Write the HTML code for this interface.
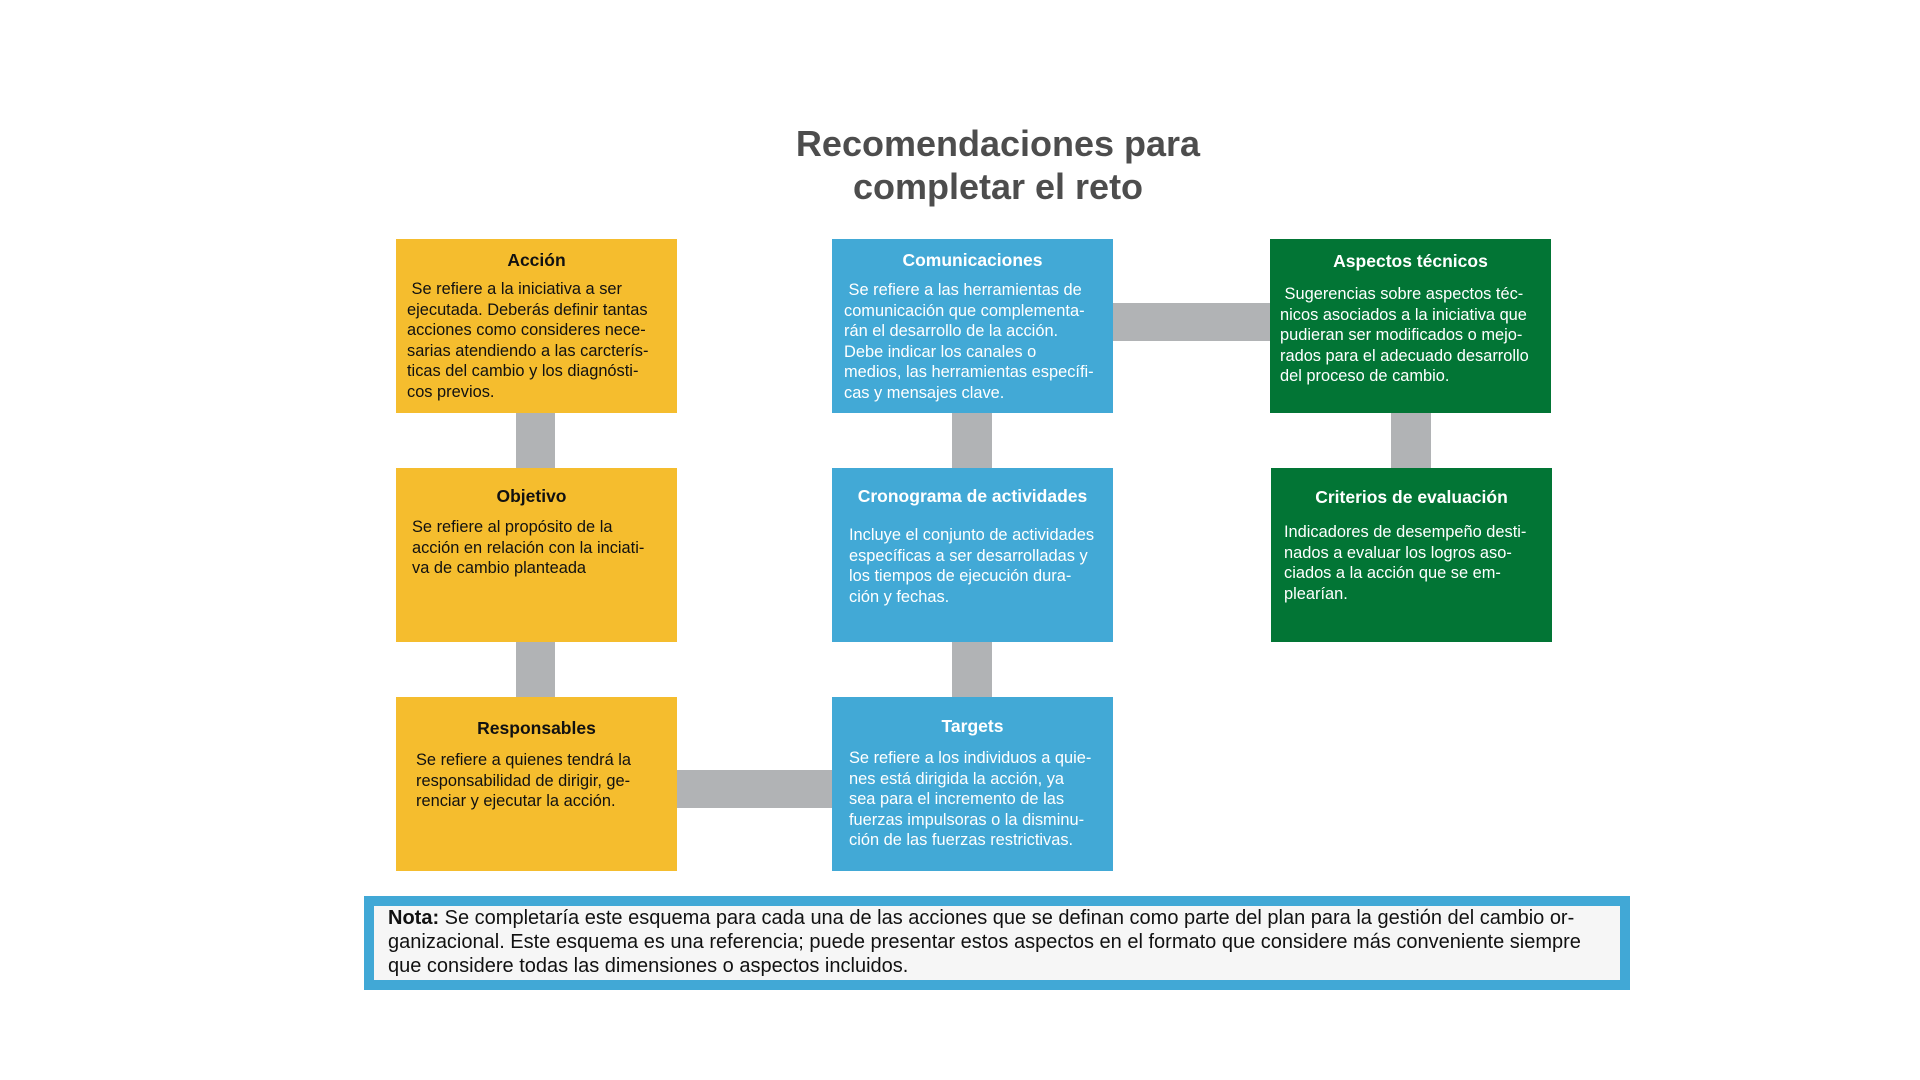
<!DOCTYPE html>
<html><head><meta charset="utf-8"><style>
body{margin:0;width:1920px;height:1080px;background:#fff;position:relative;overflow:hidden;font-family:"Liberation Sans",Arial,sans-serif}
.t{position:absolute;left:0;width:1996px;text-align:center;font-weight:bold;font-size:36px;color:#4d4d4d;line-height:43px}
.b{position:absolute;width:281px;height:174px}
.y{background:#f5bd2e;color:#111}
.u{background:#42a9d6;color:#fff}
.g{background:#027535;color:#fff}
.h{position:absolute;left:0;right:0;text-align:center;font-weight:bold;font-size:17.5px;line-height:22px;white-space:nowrap}
.p{position:absolute;font-size:16.4px;line-height:20.5px;white-space:nowrap}
.c{position:absolute;background:#b1b3b5}
.n{position:absolute;left:364px;top:896px;width:1246px;height:74px;border:10px solid #41a8d6;background:#f6f6f6;font-size:20px;line-height:24px;color:#111}
</style></head><body>
<div class="t" style="top:122px">Recomendaciones para<br>completar el reto</div>

<div class="c" style="left:516px;top:413px;width:39px;height:55px"></div>
<div class="c" style="left:516px;top:641px;width:39px;height:56px"></div>
<div class="c" style="left:952px;top:413px;width:40px;height:55px"></div>
<div class="c" style="left:952px;top:641px;width:40px;height:56px"></div>
<div class="c" style="left:1391px;top:413px;width:40px;height:55px"></div>
<div class="c" style="left:1113px;top:303px;width:157px;height:38px"></div>
<div class="c" style="left:677px;top:770px;width:155px;height:38px"></div>

<div class="b y" style="left:396px;top:239px"><div class="h" style="top:10px">Acción</div>
<div class="p" style="left:11px;top:40px">&nbsp;Se refiere a la iniciativa a ser<br>ejecutada. Deberás definir tantas<br>acciones como consideres nece-<br>sarias atendiendo a las carcterís-<br>ticas del cambio y los diagnósti-<br>cos previos.</div></div>
<div class="b y" style="left:396px;top:468px"><div class="h" style="top:17px;left:-10px">Objetivo</div>
<div class="p" style="left:16px;top:49px">Se refiere al propósito de la<br>acción en relación con la inciati-<br>va de cambio planteada</div></div>
<div class="b y" style="left:396px;top:697px"><div class="h" style="top:20px">Responsables</div>
<div class="p" style="left:20px;top:53px">Se refiere a quienes tendrá la<br>responsabilidad de dirigir, ge-<br>renciar y ejecutar la acción.</div></div>

<div class="b u" style="left:832px;top:239px"><div class="h" style="top:10px">Comunicaciones</div>
<div class="p" style="left:12px;top:41px">&nbsp;Se refiere a las herramientas de<br>comunicación que complementa-<br>rán el desarrollo de la acción.<br>Debe indicar los canales o<br>medios, las herramientas específi-<br>cas y mensajes clave.</div></div>
<div class="b u" style="left:832px;top:468px"><div class="h" style="top:17px">Cronograma de actividades</div>
<div class="p" style="left:17px;top:57px">Incluye el conjunto de actividades<br>específicas a ser desarrolladas y<br>los tiempos de ejecución dura-<br>ción y fechas.</div></div>
<div class="b u" style="left:832px;top:697px"><div class="h" style="top:18px">Targets</div>
<div class="p" style="left:17px;top:51px">Se refiere a los individuos a quie-<br>nes está dirigida la acción, ya<br>sea para el incremento de las<br>fuerzas impulsoras o la disminu-<br>ción de las fuerzas restrictivas.</div></div>

<div class="b g" style="left:1270px;top:239px"><div class="h" style="top:11px">Aspectos técnicos</div>
<div class="p" style="left:10px;top:45px">&nbsp;Sugerencias sobre aspectos téc-<br>nicos asociados a la iniciativa que<br>pudieran ser modificados o mejo-<br>rados para el adecuado desarrollo<br>del proceso de cambio.</div></div>
<div class="b g" style="left:1271px;top:468px"><div class="h" style="top:18px">Criterios de evaluación</div>
<div class="p" style="left:13px;top:54px">Indicadores de desempeño desti-<br>nados a evaluar los logros aso-<br>ciados a la acción que se em-<br>plearían.</div></div>

<div class="n"><div style="position:absolute;left:14px;top:0px;white-space:nowrap"><b>Nota:</b> Se completaría este esquema para cada una de las acciones que se definan como parte del plan para la gestión del cambio or-<br>ganizacional. Este esquema es una referencia; puede presentar estos aspectos en el formato que considere más conveniente siempre<br>que considere todas las dimensiones o aspectos incluidos.</div></div>
</body></html>
